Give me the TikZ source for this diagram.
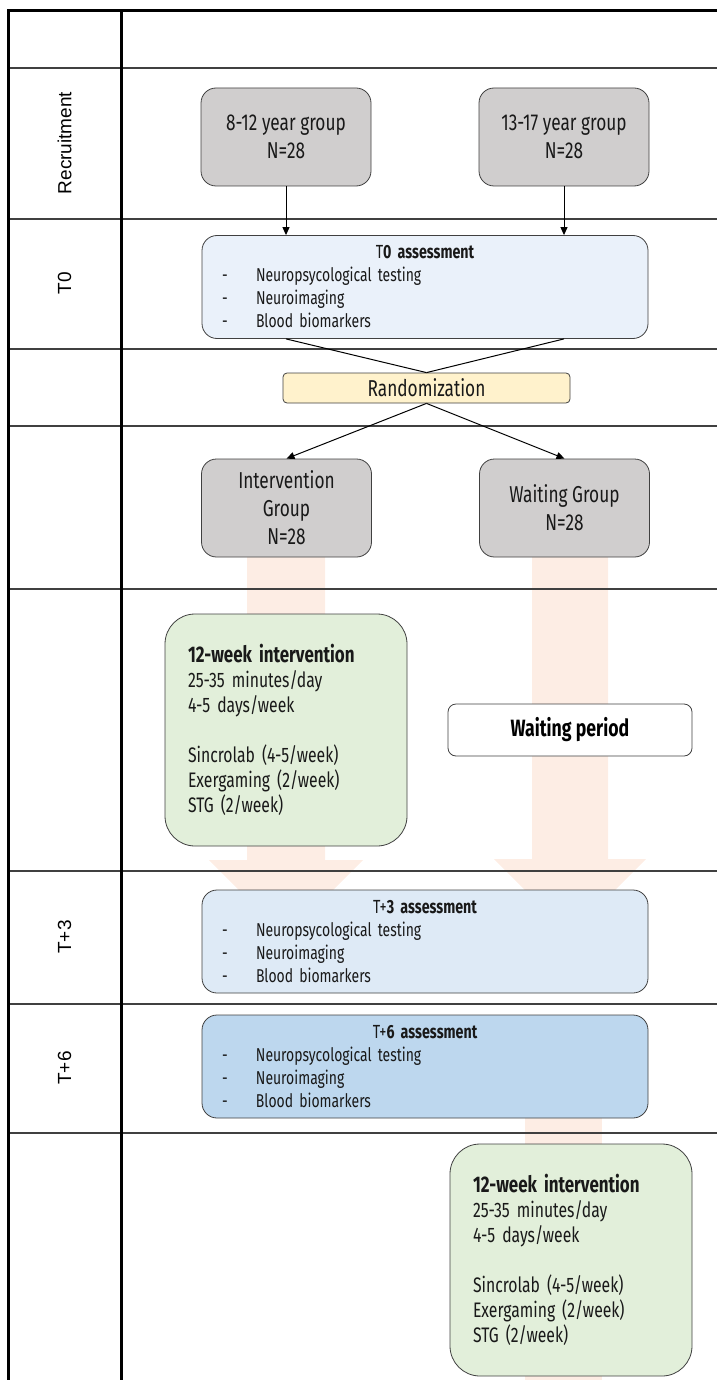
\documentclass[tikz,border=0pt]{standalone}
\usepackage{fontspec}
\setmainfont{Liberation Sans}
\newfontfamily\condfont[FakeStretch=0.75]{Fira Sans}
\usepackage{tikz}
\usetikzlibrary{positioning,arrows.meta}
\definecolor{boxgray}{HTML}{D0CECE}
\definecolor{bluezero}{HTML}{EAF1FA}
\definecolor{bluethree}{HTML}{DEEAF6}
\definecolor{bluesix}{HTML}{BDD7EE}
\definecolor{greenbox}{HTML}{E2EFDA}
\definecolor{randfill}{HTML}{FFF2CC}
\definecolor{flowfill}{HTML}{FDEDE4}
\definecolor{rim}{HTML}{404040}
\newcommand{\dashitem}[1]{\makebox[17pt][l]{-}#1}
\tikzset{
	frame/.style={line width=1.5pt, black},
	rowline/.style={line width=0.6pt, rim},
	rowlabel/.style={rotate=90, font=\fontsize{9.5}{11}\selectfont},
	groupbox/.style={draw=rim, fill=boxgray, rounded corners=7.5pt, minimum width=85pt, minimum height=49pt, inner sep=0pt, align=center, text=black!90, font=\condfont\fontsize{11.5}{14}\selectfont},
	assessbox/.style={draw=rim, rounded corners=7.5pt, text width=203pt, minimum height=51.5pt, inner xsep=10pt, inner ysep=0pt, align=left, text=black!90, font=\condfont\fontsize{9.3}{11.5}\selectfont},
	interbox/.style={draw=rim, fill=greenbox, rounded corners=15pt, text width=98pt, minimum height=116pt, inner xsep=11.5pt, inner ysep=0pt, align=left, text=black!90, font=\condfont\fontsize{10.5}{12.5}\selectfont},
	flow/.style={-{Triangle[length=4pt,width=3.5pt]}, line width=0.5pt, black}
}
\newcommand{\assesstext}[1]{{\centering\fontsize{9.5}{11.5}\selectfont #1 assessment\par}\dashitem{Neuropsycological testing}\\\dashitem{Neuroimaging}\\\dashitem{Blood biomarkers}}
\newcommand{\intertext}{{\bfseries\fontsize{11.3}{13}\selectfont 12-week intervention}\\25-35 minutes/day\\4-5 days/week\\[12.5pt]Sincrolab (4-5/week)\\Exergaming (2/week)\\STG (2/week)}

\begin{document}
\begin{tikzpicture}[x=0.5pt, y=-0.5pt, node distance=139pt]
	\useasboundingbox (0,0) rectangle (717,1380);
	% wide arrows behind everything
	\fill[flowfill] (247,540) -- (325,540) -- (325,860) -- (363,860) -- (286,937) -- (209,860) -- (247,860) -- cycle;
	\fill[flowfill] (532,540) -- (608,540) -- (608,859) -- (646,859) -- (570,935) -- (494,859) -- (532,859) -- cycle;
	\fill[flowfill] (525,1100) rectangle (602,1380);
	% table grid
	\foreach \y in {68,219,349,426,589,871,1004,1133}
		\draw[rowline] (8,\y) -- (717,\y);
	\draw[frame] (8,1380) -- (8,11) -- (717,11);
	\draw[frame] (121,11) -- (121,1380);
	\node[rowlabel] (L1) at (64.5,143) {Recruitment};
	\node[rowlabel] (L2) at (64.5,283) {T0};
	\node[rowlabel] (L3) at (64.5,937) {T+3};
	\node[rowlabel] (L4) at (64.5,1068) {T+6};
	% boxes
	\node[groupbox] (R1) at (286,137) {8-12 year group\\N=28};
	\node[groupbox] (R2) [right of=R1] {13-17 year group\\N=28};
	\node[assessbox, fill=bluezero] (T0) at (425,287) {\assesstext{T\textbf{0}\bfseries}};
	\node[draw=rim, fill=randfill, rounded corners=2pt, minimum width=143.5pt, minimum height=15pt, inner sep=0pt, text=black!90, font=\condfont\fontsize{11.5}{12}\selectfont] (Rand) at (426.5,388) {Randomization};
	\node[groupbox] (IG) at (286.5,508) {Intervention\\Group\\N=28};
	\node[groupbox] (WG) [right of=IG] {Waiting Group\\N=28};
	\node[interbox] (I1) at (286,730) {\intertext};
	\node[draw=rim, fill=white, rounded corners=4pt, minimum width=122pt, minimum height=26pt, inner sep=0pt, text=black, font=\condfont\bfseries\fontsize{11.8}{13}\selectfont] (W) at (570,730) {Waiting period};
	\node[assessbox, fill=bluethree] (T3) at (425,941.5) {\assesstext{T+\textbf{3}\bfseries}};
	\node[assessbox, fill=bluesix] (T6) at (425,1066.5) {\assesstext{T+\textbf{6}\bfseries}};
	\node[interbox] (I2) at (571,1260) {\intertext};
	% connectors
	\draw[flow] (R1.south) -- (R1.south |- T0.north);
	\draw[flow] (R2.south) -- (R2.south |- T0.north);
	\draw[line width=0.5pt] (R1.south |- T0.south) -- (Rand.north);
	\draw[line width=0.5pt] (R2.south |- T0.south) -- (Rand.north);
	\draw[flow] (Rand.south) -- (IG.north);
	\draw[flow] (Rand.south) -- (WG.north);
\end{tikzpicture}
\end{document}
